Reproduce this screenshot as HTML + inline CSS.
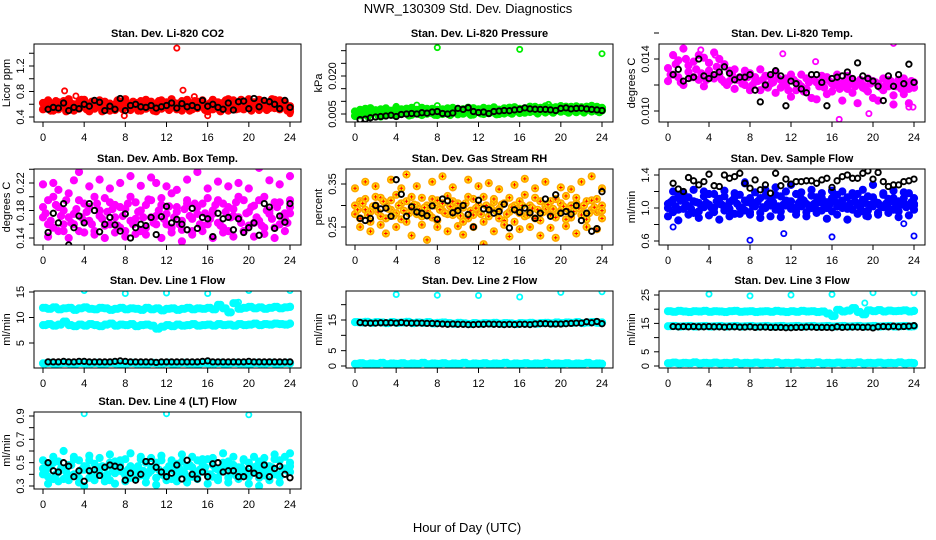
<!DOCTYPE html>
<html><head><meta charset="utf-8"><title>NWR_130309 Std. Dev. Diagnostics</title>
<style>
html,body{margin:0;padding:0;background:#fff;}
svg{display:block;font-family:"Liberation Sans",Arial,sans-serif;}
</style></head>
<body>
<svg id="chart" width="936" height="540" viewBox="0 0 936 540" xmlns="http://www.w3.org/2000/svg">
<rect width="936" height="540" fill="#fff"/>
<text x="468" y="13" text-anchor="middle" font-size="13">NWR_130309  Std. Dev. Diagnostics</text>
<text x="467" y="532" text-anchor="middle" font-size="13">Hour of Day (UTC)</text>
</svg>
<script>
// ---------- data ----------
const xTicks = [0,4,8,12,16,20,24];
const blackHours = [0.5,1,1.5,2,2.5,3,3.5,4,4.5,5,5.5,6,6.5,7,7.5,8,8.5,9,9.5,10,10.5,11,11.5,12,12.5,13,13.5,14,14.5,15,15.5,16,16.5,17,17.5,18,18.5,19,19.5,20,20.5,21,21.5,22,22.5,23,23.5,24];
const mainHours = [0,0.5,1,1.5,2,2.5,3,3.5,4,4.5,5,5.5,6,6.5,7,7.5,8,8.5,9,9.5,10,10.5,11,11.5,12,12.5,13,13.5,14,14.5,15,15.5,16,16.5,17,17.5,18,18.5,19,19.5,20,20.5,21,21.5,22,22.5,23,23.5,24];
const midHours = [0.25,0.75,1.25,1.75,2.25,2.75,3.25,3.75,4.25,4.75,5.25,5.75,6.25,6.75,7.25,7.75,8.25,8.75,9.25,9.75,10.25,10.75,11.25,11.75,12.25,12.75,13.25,13.75,14.25,14.75,15.25,15.75,16.25,16.75,17.25,17.75,18.25,18.75,19.25,19.75,20.25,20.75,21.25,21.75,22.25,22.75,23.25,23.75,24];

const co2Main1 = [0.62,0.55,0.60,0.52,0.65,0.58,0.50,0.63,0.56,0.60,0.53,0.66,0.57,0.61,0.51,0.64,0.58,0.55,0.62,0.50,0.67,0.56,0.60,0.53,0.63,0.58,0.52,0.65,0.57,0.61,0.54,0.66,0.59,0.52,0.63,0.56,0.68,0.58,0.53,0.64,0.60,0.55,0.67,0.57,0.62,0.54,0.66,0.59,0.52];
const co2Main2 = [0.52,0.66,0.50,0.63,0.55,0.68,0.60,0.53,0.67,0.49,0.62,0.56,0.64,0.50,0.60,0.55,0.68,0.51,0.57,0.65,0.53,0.64,0.49,0.66,0.55,0.68,0.61,0.50,0.67,0.52,0.64,0.56,0.49,0.67,0.53,0.62,0.50,0.66,0.61,0.52,0.68,0.63,0.51,0.65,0.54,0.67,0.52,0.63,0.48];
const co2Main3 = [0.57,0.50,0.65,0.58,0.49,0.61,0.55,0.67,0.52,0.64,0.58,0.49,0.61,0.55,0.66,0.52,0.60,0.64,0.50,0.58,0.61,0.50,0.65,0.58,0.51,0.62,0.56,0.59,0.50,0.65,0.58,0.51,0.62,0.58,0.49,0.66,0.59,0.52,0.67,0.58,0.50,0.60,0.56,0.51,0.68,0.59,0.57,0.50,0.57];
const co2OutHours = [13,13.6,2.1,16,7.9,24,3.2,14.7];
const co2OutVals = [1.48,0.82,0.81,0.42,0.42,0.45,0.73,0.72];
const co2Black = [0.52,0.55,0.54,0.62,0.50,0.55,0.53,0.60,0.57,0.66,0.63,0.50,0.57,0.52,0.69,0.50,0.58,0.60,0.56,0.55,0.58,0.54,0.56,0.58,0.62,0.54,0.61,0.56,0.58,0.55,0.66,0.57,0.60,0.55,0.52,0.62,0.51,0.64,0.65,0.53,0.69,0.56,0.66,0.64,0.60,0.53,0.66,0.55];

const presMain1 = [.0060,.0045,.0070,.0050,.0065,.0040,.0072,.0055,.0048,.0068,.0052,.0074,.0058,.0046,.0070,.0053,.0066,.0050,.0072,.0057,.0049,.0069,.0055,.0073,.0060,.0050,.0071,.0056,.0067,.0052,.0075,.0061,.0054,.0072,.0058,.0078,.0062,.0056,.0076,.0064,.0059,.0079,.0063,.0057,.0077,.0066,.0060,.0078,.0064];
const presMain2 = [.0042,.0066,.0048,.0073,.0058,.0068,.0045,.0063,.0075,.0050,.0071,.0047,.0066,.0074,.0051,.0070,.0046,.0068,.0052,.0074,.0066,.0051,.0075,.0048,.0068,.0074,.0053,.0076,.0050,.0072,.0056,.0077,.0070,.0055,.0079,.0060,.0074,.0080,.0062,.0077,.0081,.0061,.0078,.0080,.0063,.0079,.0082,.0062,.0074];
const presMain3 = [.0052,.0058,.0041,.0062,.0045,.0056,.0063,.0047,.0059,.0062,.0044,.0060,.0050,.0062,.0058,.0047,.0060,.0057,.0046,.0064,.0058,.0062,.0047,.0063,.0052,.0060,.0063,.0049,.0060,.0064,.0051,.0068,.0060,.0065,.0067,.0052,.0070,.0067,.0055,.0070,.0068,.0055,.0070,.0067,.0056,.0071,.0068,.0057,.0069];
const presOutHours = [8,16,24,6,8,18.8,4];
const presOutVals = [.0312,.0305,.0288,.0085,.0083,.0088,.0080];
const presBlack = [.0028,.0030,.0035,.0038,.0040,.0042,.0045,.0040,.0048,.0050,.0052,.0050,.0055,.0053,.0058,.0060,.0052,.0050,.0054,.0072,.0068,.0075,.0060,.0056,.0058,.0052,.0060,.0062,.0064,.0063,.0066,.0068,.0074,.0070,.0069,.0068,.0068,.0066,.0064,.0072,.0074,.0070,.0072,.0073,.0070,.0068,.0066,.0064];

const tempMain1 = [.0133,.0143,.0126,.0148,.0130,.0138,.0124,.0141,.0131,.0145,.0128,.0136,.0123,.0132,.0126,.0120,.0129,.0123,.0116,.0127,.0121,.0130,.0118,.0125,.0111,.0122,.0128,.0117,.0124,.0109,.0121,.0126,.0115,.0123,.0119,.0127,.0114,.0122,.0118,.0125,.0110,.0121,.0116,.0124,.0112,.0120,.0125,.0117,.0122];
const tempMain2 = [.0123,.0128,.0139,.0120,.0135,.0126,.0143,.0119,.0137,.0125,.0140,.0122,.0131,.0117,.0125,.0131,.0116,.0126,.0132,.0119,.0126,.0114,.0124,.0120,.0128,.0116,.0119,.0125,.0110,.0122,.0127,.0113,.0121,.0128,.0108,.0117,.0124,.0106,.0120,.0115,.0123,.0108,.0125,.0119,.0105,.0124,.0113,.0106,.0118];
const tempMain3 = [.0128,.0136,.0122,.0140,.0126,.0132,.0129,.0124,.0127,.0134,.0124,.0120,.0128,.0124,.0121,.0126,.0120,.0123,.0124,.0118,.0122,.0125,.0121,.0116,.0124,.0121,.0115,.0122,.0124,.0119,.0118,.0123,.0120,.0117,.0123,.0121,.0119,.0124,.0117,.0121,.0122,.0118,.0120,.0123,.0119,.0117,.0121,.0123,.0118];
const tempOutHours = [0.9,1.2,22,16.7,19.6,23.5,23.9,4.6,3.2,11.2,14.4];
const tempOutVals = [.0155,.0155,.0152,.00935,.0098,.0103,.0103,.0143,.0147,.0144,.0138];
const tempBlack = [.0128,.0132,.0123,.0125,.0126,.0140,.0127,.0125,.0128,.0130,.0134,.0129,.0124,.0126,.0126,.0128,.0116,.0107,.0120,.0128,.0131,.0127,.0104,.0123,.0121,.0117,.0114,.0128,.0128,.0122,.0104,.0125,.0126,.0127,.0130,.0125,.0137,.0127,.0125,.0123,.0119,.0108,.0127,.0119,.0128,.0121,.0136,.0122];

const ambMain1 = [.170,.195,.155,.185,.160,.205,.175,.150,.190,.165,.200,.180,.158,.192,.170,.185,.150,.200,.168,.180,.155,.195,.172,.188,.160,.205,.178,.152,.190,.168,.185,.158,.198,.175,.162,.190,.150,.182,.170,.195,.158,.187,.165,.200,.175,.155,.192,.168,.185];
const ambMain2 = [.185,.160,.200,.150,.180,.170,.160,.195,.165,.185,.150,.172,.198,.160,.188,.155,.182,.165,.192,.150,.188,.170,.160,.198,.175,.155,.185,.165,.195,.150,.175,.190,.160,.180,.195,.155,.185,.172,.200,.150,.178,.162,.195,.155,.180,.192,.160,.176,.195];
const ambMain3 = [.218,.142,.220,.210,.150,.140,.224,.236,.148,.215,.145,.225,.140,.212,.148,.220,.142,.230,.146,.216,.145,.228,.220,.140,.215,.148,.210,.135,.225,.145,.236,.150,.212,.140,.222,.148,.215,.142,.220,.150,.212,.142,.242,.146,.224,.140,.218,.150,.230];
const ambMain4 = [.176,.165,.188,.172,.195,.162,.182,.170,.178,.160,.190,.168,.178,.182,.158,.172,.190,.160,.178,.170,.196,.162,.180,.168,.186,.170,.160,.182,.172,.190,.160,.176,.168,.188,.158,.178,.170,.192,.162,.176,.185,.170,.158,.180,.168,.185,.172,.162,.176];
const ambBlack = [.148,.176,.162,.190,.130,.155,.172,.162,.190,.180,.149,.160,.170,.159,.150,.175,.140,.155,.160,.158,.170,.145,.171,.186,.162,.167,.160,.152,.183,.154,.170,.168,.142,.176,.168,.170,.152,.168,.148,.155,.162,.144,.190,.185,.154,.172,.163,.190];

const rhMain1 = [.300,.270,.315,.285,.320,.275,.305,.290,.325,.268,.310,.295,.280,.318,.300,.272,.312,.288,.322,.278,.305,.295,.270,.315,.285,.320,.275,.308,.292,.265,.318,.300,.282,.325,.290,.270,.310,.298,.278,.315,.288,.322,.272,.305,.295,.268,.312,.285,.300];
const rhMain2 = [.280,.310,.290,.262,.300,.318,.270,.312,.282,.305,.262,.320,.300,.275,.288,.315,.265,.305,.280,.310,.290,.262,.320,.278,.300,.262,.295,.315,.270,.305,.285,.262,.310,.275,.300,.318,.265,.290,.310,.272,.305,.268,.300,.318,.278,.310,.290,.315,.270];
const rhMain3 = [.340,.250,.355,.240,.345,.255,.235,.360,.250,.340,.372,.230,.345,.255,.220,.355,.250,.368,.240,.342,.252,.232,.360,.250,.345,.210,.352,.240,.338,.255,.228,.348,.245,.362,.250,.340,.230,.355,.248,.225,.342,.252,.338,.235,.355,.250,.368,.245,.340];
const rhMain4 = [.290,.305,.278,.298,.285,.310,.292,.276,.300,.288,.282,.302,.290,.295,.278,.300,.290,.282,.298,.292,.276,.305,.288,.294,.280,.300,.292,.286,.302,.280,.296,.288,.300,.278,.294,.290,.284,.302,.292,.282,.298,.290,.286,.294,.300,.282,.296,.290,.288];
const rhBlack = [.270,.265,.270,.300,.292,.294,.275,.360,.326,.275,.297,.285,.282,.276,.299,.268,.315,.311,.283,.288,.300,.279,.250,.312,.292,.290,.282,.286,.303,.248,.290,.284,.294,.283,.270,.282,.315,.275,.325,.282,.286,.280,.300,.265,.282,.240,.246,.332];

const flowMain1 = [1.05,1.10,0.98,1.12,1.02,1.08,0.96,1.14,1.04,1.00,1.11,0.97,1.07,1.13,1.01,1.09,0.95,1.06,1.12,1.00,1.10,0.98,1.14,1.03,1.08,0.96,1.11,1.05,1.00,1.13,0.97,1.07,1.12,1.02,1.09,0.99,1.15,1.04,1.10,0.97,1.13,1.06,1.01,1.11,0.98,1.08,1.12,1.03,1.05];
const flowMain2 = [1.00,0.95,1.15,0.99,1.13,0.94,1.06,1.01,1.17,0.95,1.05,1.14,0.99,0.93,1.16,0.97,1.12,1.02,0.94,1.15,1.03,1.16,0.96,1.09,0.99,1.17,1.02,0.95,1.15,0.98,1.12,1.00,0.96,1.16,1.00,1.13,0.98,1.17,0.96,1.14,1.02,0.94,1.16,1.00,1.12,0.96,1.06,1.18,0.98];
const flowMain3 = [0.90,1.20,0.85,1.18,0.92,1.22,0.88,1.20,0.91,1.17,0.86,1.21,0.90,1.18,0.93,1.30,0.92,1.19,0.88,1.22,0.90,1.25,0.89,1.20,1.28,0.92,1.19,0.90,1.22,0.94,1.18,0.87,1.21,0.92,1.20,0.86,1.18,0.93,1.22,0.90,1.28,0.92,1.18,0.94,1.21,0.89,1.19,0.91,1.12];
const flowMain4 = [1.07,1.02,1.09,1.04,0.99,1.07,1.03,1.06,1.00,1.08,1.04,1.02,1.09,1.05,1.00,1.07,1.03,1.08,1.01,1.05,1.07,1.02,1.04,1.08,1.00,1.06,1.09,1.03,1.05,1.07,1.01,1.04,1.08,1.06,1.02,1.05,1.08,1.01,1.06,1.04,1.07,1.02,1.05,1.08,1.03,1.04,1.01,1.07,1.03];
const flowOutHours = [8,11.3,16,24,19.3,23,0.5,7.5];
const flowOutVals = [0.61,0.69,0.65,0.66,0.90,0.81,0.77,1.32];
const flowBlack = [1.30,1.23,1.20,1.37,1.33,1.28,1.32,1.41,1.27,1.26,1.40,1.36,1.38,1.42,1.30,1.24,1.34,1.22,1.28,1.18,1.42,1.27,1.35,1.29,1.32,1.32,1.33,1.33,1.30,1.34,1.36,1.25,1.33,1.38,1.40,1.36,1.36,1.42,1.45,1.35,1.43,1.32,1.26,1.28,1.28,1.32,1.33,1.35];

const line1Upper = [11.9,11.7,12.0,11.6,11.8,11.9,11.5,11.8,12.0,11.7,11.6,11.9,11.8,11.5,11.7,11.9,11.6,11.8,11.7,11.5,11.9,11.6,11.8,11.4,11.7,11.8,11.5,11.7,11.9,11.6,11.8,11.7,11.9,11.6,12.5,11.8,11.0,12.8,11.7,11.9,12.1,11.8,12.0,11.7,11.9,12.1,11.8,12.0,12.1];
const line1Middle = [8.5,8.7,8.4,8.6,9.2,8.5,8.3,8.6,8.4,8.7,8.5,8.3,8.6,8.8,8.4,8.6,8.5,8.7,8.3,8.5,8.6,8.4,7.8,8.2,8.5,8.3,8.6,8.4,8.5,8.7,8.4,8.5,8.6,8.4,8.7,8.5,8.6,8.4,8.7,8.5,8.6,8.8,8.5,8.7,8.6,8.8,8.7,8.6,8.8];
const line1Lower = [1.0,1.1,0.9,1.0,1.1,1.0,0.9,1.1,1.0,1.0,1.1,0.9,1.0,1.1,1.0,0.9,1.0,1.1,1.0,1.0,0.9,1.1,1.0,1.0,1.1,0.9,1.0,1.1,1.0,1.0,0.9,1.1,1.0,1.0,1.1,0.9,1.0,1.1,1.0,1.0,0.9,1.1,1.0,1.0,1.1,0.9,1.0,1.1,1.0];
const line1OutHours = [4,8,12,16,20,24,19];
const line1OutVals = [15.3,14.7,14.8,14.7,15.3,15.3,13.0];
const line1Black = [1.3,1.3,1.3,1.4,1.3,1.3,1.4,1.4,1.3,1.3,1.3,1.3,1.3,1.4,1.5,1.4,1.3,1.3,1.3,1.3,1.3,1.2,1.3,1.3,1.3,1.3,1.3,1.3,1.3,1.3,1.4,1.5,1.3,1.3,1.3,1.3,1.3,1.3,1.3,1.4,1.3,1.3,1.3,1.3,1.3,1.3,1.3,1.3];

const line2Upper = [14.3,14.2,14.4,14.1,14.3,14.2,14.0,14.3,14.1,14.2,14.4,14.0,14.2,14.1,14.3,13.9,14.1,14.2,14.0,13.8,14.1,13.9,13.7,14.0,13.8,14.0,13.9,14.1,13.8,14.0,13.9,13.7,14.0,13.9,14.1,13.8,14.0,14.1,13.9,14.2,14.0,14.2,14.1,14.3,14.0,14.2,14.3,14.1,14.2];
const line2Lower = [0.7,0.9,0.6,0.8,0.7,1.0,0.6,0.8,0.7,0.9,0.6,0.8,0.7,1.0,0.6,0.8,0.7,0.9,0.6,0.8,0.7,1.0,0.6,0.8,0.7,0.9,0.6,0.8,0.7,1.0,0.6,0.8,0.7,0.9,0.6,0.8,0.7,1.0,0.6,0.8,0.7,0.9,0.6,0.8,0.7,1.0,0.6,0.8,0.7];
const line2OutHours = [4,8,12,16,20,24];
const line2OutVals = [23.3,23.1,23.0,22.5,24.0,24.2];
const line2Black = [14.2,14.0,14.0,14.0,14.1,14.1,14.1,14.0,14.2,14.0,14.0,14.0,14.0,13.9,13.9,13.8,13.7,13.6,13.7,13.6,13.6,13.5,13.5,13.6,13.6,13.7,13.6,13.6,13.5,13.6,13.5,13.6,13.6,13.5,13.7,13.8,13.8,13.7,13.7,13.7,13.8,13.9,14.0,14.0,14.4,14.1,14.5,13.8];

const line3Upper = [19.3,19.1,19.4,19.2,19.0,19.3,19.2,19.4,19.1,19.3,19.2,19.0,19.3,19.4,19.1,19.2,19.3,19.0,19.2,19.3,19.1,19.4,19.2,19.0,19.3,19.1,19.4,19.2,19.3,19.0,19.2,18.5,17.6,19.8,19.2,19.5,20.4,19.0,18.2,19.6,19.3,19.7,19.2,19.5,19.3,19.4,19.6,19.2,19.4];
const line3Middle = [14.0,14.1,13.9,14.0,14.1,13.9,14.0,14.1,13.9,14.0,14.1,13.9,14.0,14.1,13.9,14.0,14.1,13.9,14.0,14.1,13.9,14.0,14.1,13.9,14.0,14.1,13.9,14.0,14.1,13.9,14.0,14.1,13.9,14.0,14.1,13.9,14.0,14.1,13.9,14.0,14.1,13.9,14.0,14.1,13.9,14.0,14.1,13.9,14.0];
const line3Lower = [1.0,1.2,0.9,1.1,1.0,1.3,0.9,1.1,1.0,1.2,0.9,1.1,1.0,1.3,0.9,1.1,1.0,1.2,0.9,1.1,1.0,1.3,0.9,1.1,1.0,1.2,0.9,1.1,1.0,1.3,0.9,1.1,1.0,1.2,0.9,1.1,1.0,1.3,0.9,1.1,1.0,1.2,0.9,1.1,1.0,1.3,0.9,1.1,1.0];
const line3OutHours = [4,8,12,16,20,24,19.2,16.2];
const line3OutVals = [25.3,24.7,25.0,25.2,25.8,25.8,22.2,17.6];
const line3Black = [13.9,13.8,13.9,13.8,13.9,13.8,13.8,13.9,13.8,13.8,13.7,13.8,13.8,13.7,13.7,13.8,13.6,13.7,13.7,13.6,13.6,13.6,13.5,13.5,13.6,13.6,13.7,13.7,13.6,13.6,13.6,13.5,13.8,13.6,13.7,13.7,13.7,13.6,13.7,13.4,13.8,13.9,13.8,14.0,13.8,13.9,14.0,14.2];

const lt4Main1 = [.45,.38,.50,.42,.36,.48,.40,.52,.44,.37,.49,.41,.46,.35,.51,.43,.39,.47,.42,.53,.38,.45,.50,.40,.44,.36,.49,.42,.47,.38,.52,.43,.40,.48,.37,.45,.51,.41,.46,.39,.50,.43,.37,.48,.44,.40,.52,.45,.42];
const lt4Main2 = [.40,.48,.36,.51,.45,.39,.53,.37,.47,.52,.40,.46,.36,.50,.41,.48,.53,.37,.45,.39,.50,.43,.37,.52,.41,.48,.38,.51,.36,.46,.40,.49,.53,.38,.44,.50,.37,.48,.42,.52,.38,.46,.51,.39,.47,.53,.38,.44,.50];
const lt4Main3 = [.52,.32,.55,.34,.60,.35,.55,.33,.30,.56,.35,.54,.34,.57,.32,.52,.34,.58,.36,.55,.33,.54,.31,.56,.35,.52,.34,.57,.33,.55,.36,.53,.32,.54,.35,.58,.33,.55,.36,.53,.32,.55,.30,.54,.35,.57,.33,.55,.58];
const lt4Main4 = [.43,.47,.40,.45,.42,.48,.39,.44,.46,.41,.43,.47,.40,.45,.48,.42,.44,.40,.47,.43,.41,.46,.44,.39,.47,.43,.45,.41,.48,.42,.44,.46,.40,.45,.42,.47,.44,.39,.46,.43,.41,.47,.44,.42,.46,.40,.45,.43,.47];
const lt4OutHours = [4,12,20];
const lt4OutVals = [.92,.92,.91];
const lt4Black = [.50,.43,.42,.50,.47,.38,.43,.34,.43,.44,.39,.46,.48,.47,.46,.35,.41,.35,.40,.51,.51,.46,.42,.38,.41,.48,.36,.52,.40,.36,.42,.38,.49,.50,.42,.43,.43,.38,.38,.45,.41,.39,.48,.38,.45,.47,.40,.37];

// ---------- layout ----------
const NS = "http://www.w3.org/2000/svg";
const svg = document.getElementById("chart");
const colLeft = [34, 346, 659];
const colRight = [301, 613, 925];
const rowTop = [44, 169, 291, 412];
const rowBottom = [122, 245, 368, 489];

const panels = [
 {name:"co2", title:"Stan. Dev. Li-820 CO2", ylab:"Licor ppm", col:0,row:0, ref:[0.4,117,1.2,66], ticks:[0.4,0.6,0.8,1.0,1.2,1.4], labels:["0.4","","0.8","","1.2",""], color:"#ff0000", mains:[co2Main1,co2Main2], mids:[co2Main3], outH:co2OutHours, outV:co2OutVals, black:co2Black},
 {name:"pressure", title:"Stan. Dev. Li-820 Pressure", ylab:"kPa", col:1,row:0, ref:[0.005,114,0.020,76], ticks:[0.005,0.010,0.015,0.020,0.025,0.030], labels:["0.005","","","0.020","",""], color:"#00ee00", mains:[presMain1,presMain2], mids:[presMain3], outH:presOutHours, outV:presOutVals, black:presBlack},
 {name:"temp", title:"Stan. Dev. Li-820 Temp.", ylab:"degrees C", col:2,row:0, ref:[0.010,111,0.014,59], ticks:[0.010,0.012,0.014,0.016], labels:["0.010","","0.014",""], color:"#ff00ff", mains:[tempMain1,tempMain2], mids:[tempMain3], outH:tempOutHours, outV:tempOutVals, black:tempBlack},
 {name:"amb-box-temp", title:"Stan. Dev. Amb. Box Temp.", ylab:"degrees C", col:0,row:1, ref:[0.14,238,0.22,183], ticks:[0.14,0.16,0.18,0.20,0.22,0.24], labels:["0.14","","0.18","","0.22",""], color:"#ff00ff", mains:[ambMain1,ambMain2,ambMain3], mids:[ambMain4], outH:[], outV:[], black:ambBlack},
 {name:"gas-stream-rh", title:"Stan. Dev. Gas Stream RH", ylab:"percent", col:1,row:1, ref:[0.25,227,0.35,184], ticks:[0.25,0.30,0.35], labels:["0.25","","0.35"], color:"#ffa500", fill:"#ffee00", mains:[rhMain1,rhMain2,rhMain3], mids:[rhMain4], outH:[], outV:[], black:rhBlack, cross:"#ff0000"},
 {name:"sample-flow", title:"Stan. Dev. Sample Flow", ylab:"ml/min", col:2,row:1, ref:[0.6,241,1.4,175], ticks:[0.6,0.8,1.0,1.2,1.4], labels:["0.6","","1.0","","1.4"], color:"#0000ff", mains:[flowMain1,flowMain2,flowMain3], mids:[flowMain4], outH:flowOutHours, outV:flowOutVals, black:flowBlack},
 {name:"line1-flow", title:"Stan. Dev. Line 1 Flow", ylab:"ml/min", col:0,row:2, ref:[5,343,15,292], ticks:[5,10,15], labels:["5","10","15"], color:"#00ffff", mains:[line1Upper,line1Middle,line1Lower], mids:[line1Upper,line1Middle,line1Lower], outH:line1OutHours, outV:line1OutVals, black:line1Black},
 {name:"line2-flow", title:"Stan. Dev. Line 2 Flow", ylab:"ml/min", col:1,row:2, ref:[0,366,15,320], ticks:[0,5,10,15,20], labels:["0","5","","15",""], color:"#00ffff", mains:[line2Upper,line2Lower], mids:[line2Upper,line2Lower], outH:line2OutHours, outV:line2OutVals, black:line2Black},
 {name:"line3-flow", title:"Stan. Dev. Line 3 Flow", ylab:"ml/min", col:2,row:2, ref:[0,366,25,295], ticks:[0,5,10,15,20,25], labels:["0","5","","15","","25"], color:"#00ffff", mains:[line3Upper,line3Middle,line3Lower], mids:[line3Upper,line3Middle,line3Lower], outH:line3OutHours, outV:line3OutVals, black:line3Black},
 {name:"line4-flow", title:"Stan. Dev. Line 4 (LT) Flow", ylab:"ml/min", col:0,row:3, ref:[0.3,486,0.9,416], ticks:[0.3,0.4,0.5,0.6,0.7,0.8,0.9], labels:["0.3","","0.5","","0.7","","0.9"], color:"#00ffff", mains:[lt4Main1,lt4Main2,lt4Main3], mids:[lt4Main4], outH:lt4OutHours, outV:lt4OutVals, black:lt4Black}
];

function mk(tag, attrs, parent){
  const e = document.createElementNS(NS, tag);
  for (const k in attrs) e.setAttribute(k, attrs[k]);
  (parent||svg).appendChild(e);
  return e;
}

panels.forEach(p => {
  const L = colLeft[p.col], R = colRight[p.col], T = rowTop[p.row], B = rowBottom[p.row];
  const x0 = L + 9, x1 = R - 11;
  const xScale = h => x0 + (x1 - x0) * h / 24;
  const [v0, p0, v1, p1] = p.ref;
  const yScale = v => p0 + (v - v0) * (p1 - p0) / (v1 - v0);

  const g = mk("g", {});
  
  

  const title = mk("text", {x:(L+R)/2, y:T-7, "text-anchor":"middle", "font-size":"11", "font-weight":"bold"}, g);
  title.textContent = p.title;
  
  

  const yl = mk("text", {x:0, y:0, transform:`translate(${L-24},${(T+B)/2}) rotate(-90)`, "text-anchor":"middle", "font-size":"11"}, g);
  yl.textContent = p.ylab;
  
  

  const cid = "clip-" + p.name;
  const cp = mk("clipPath", {id:cid}, g);
  mk("rect", {x:L, y:T, width:R-L, height:B-T}, cp);
  const pts = mk("g", {"clip-path":`url(#${cid})`}, g);
  
  

  const drawMain = (arr, hrs) => {
    arr.forEach((v, i) => {
      const cx = xScale(hrs[i]), cy = yScale(v);
      const c = mk("circle", {cx:cx.toFixed(1), cy:cy.toFixed(1), r:3.3, fill:p.fill||p.color, stroke:p.color, "stroke-width":1.6}, pts);
      
      
      if (p.cross) {
        mk("path", {d:`M${cx-1.8},${cy}H${cx+1.8}M${cx},${cy-1.8}V${cy+1.8}`, stroke:p.cross, "stroke-width":1}, pts);
      }
    });
  };
  p.mains.forEach(arr => drawMain(arr, mainHours));
  p.mids.forEach(arr => drawMain(arr, midHours));

  p.outH.forEach((h, i) => {
    const c = mk("circle", {cx:xScale(h).toFixed(1), cy:yScale(p.outV[i]).toFixed(1), r:2.6, fill:"none", stroke:p.color, "stroke-width":1.8}, pts);
    
    
  });
  p.black.forEach((v, i) => {
    const c = mk("circle", {cx:xScale(blackHours[i]).toFixed(1), cy:yScale(v).toFixed(1), r:2.7, fill:"none", stroke:"#000", "stroke-width":1.9}, pts);
    
    
  });

  const frame = mk("rect", {x:L, y:T, width:R-L, height:B-T, fill:"none", stroke:"#000", "stroke-width":1}, g);
  
  

  xTicks.forEach(t => {
    const x = xScale(t);
    mk("line", {x1:x, x2:x, y1:B, y2:B+5, stroke:"#000"}, g);
    const tl = mk("text", {x:x, y:B+19, "text-anchor":"middle", "font-size":"11"}, g);
    tl.textContent = String(t);
    
    
  });
  p.ticks.forEach((t, i) => {
    const y = yScale(t);
    mk("line", {x1:L-5, x2:L, y1:y, y2:y, stroke:"#000"}, g);
    if (p.labels[i]) {
      const tl = mk("text", {x:0, y:0, transform:`translate(${L-10},${y}) rotate(-90)`, "text-anchor":"middle", "font-size":"11"}, g);
      tl.textContent = p.labels[i];
      
      
    }
  });
});
</script>
</body></html>
